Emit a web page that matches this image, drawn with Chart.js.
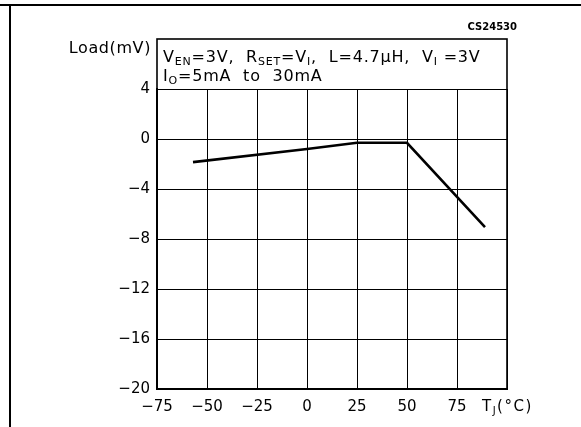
<!DOCTYPE html>
<html>
<head>
<meta charset="utf-8">
<script src="https://cdn.jsdelivr.net/npm/chart.js@4"></script>
<style>
  body { margin: 0; background: #fff; }
  canvas { display: block; }
</style>
</head>
<body>
<canvas id="loadChart" width="581" height="427"></canvas>
<script>
// data
const tempC = [-57, 0, 25, 50, 89];
const loadMv = [-1.85, -0.8, -0.3, -0.3, -7.05];
const xTicks = [-75, -50, -25, 0, 25, 50, 75, 100];
const yTicks = [-20, -16, -12, -8, -4, 0, 4];

const FONT = "DejaVu Sans";
const minus = (v) => String(v).replace("-", "\u2212");

// draw text made of runs, some of them subscripts
function drawRuns(ctx, x, y, runs, size = 16) {
  runs.forEach((r) => {
    ctx.font = r.sub ? `${size - 5}px ${FONT}` : `${size}px ${FONT}`;
    ctx.fillText(r.t, x, y + (r.sub ? 3 : 0));
    x += ctx.measureText(r.t).width;
  });
  return x;
}

const decorations = {
  id: "decorations",
  afterDraw(chart) {
    const ctx = chart.ctx;
    const { left, right, top, bottom } = chart.chartArea;
    ctx.save();
    ctx.fillStyle = "#000";
    ctx.strokeStyle = "#000";

    // page frame
    ctx.fillRect(0, 4, 581, 2);
    ctx.fillRect(9, 4, 2, 423);

    // plot outline and header box above the grid
    ctx.lineWidth = 1.6;
    ctx.strokeRect(left, 39, right - left, bottom - 39);

    ctx.textBaseline = "alphabetic";
    ctx.textAlign = "left";
    ctx.letterSpacing = "0.8px";
    drawRuns(ctx, 163, 62, [
      { t: "V" }, { t: "EN", sub: true }, { t: "=3V,  R" }, { t: "SET", sub: true },
      { t: "=V" }, { t: "I", sub: true }, { t: ",  L=4.7\u00b5H,  V" }, { t: "I", sub: true },
      { t: " =3V" },
    ]);
    drawRuns(ctx, 163, 81, [
      { t: "I" }, { t: "O", sub: true }, { t: "=5mA  to  30mA" },
    ]);

    // y title
    ctx.font = `16px ${FONT}`;
    ctx.letterSpacing = "0.6px";
    ctx.textAlign = "right";
    ctx.fillText("Load(mV)", 151, 53);

    // x title
    ctx.textAlign = "left";
    ctx.letterSpacing = "1.5px";
    drawRuns(ctx, 482, 411, [{ t: "T" }, { t: "J", sub: true }, { t: "(\u00b0C)" }], 15);
    ctx.letterSpacing = "0px";

    // figure code
    ctx.font = `bold 10px ${FONT}`;
    ctx.textAlign = "right";
    ctx.fillText("CS24530", 517, 30);
    ctx.restore();
  },
};

new Chart(document.getElementById("loadChart"), {
  type: "scatter",
  data: {
    datasets: [
      {
        data: tempC.map((t, i) => ({ x: t, y: loadMv[i] })),
        showLine: true,
        borderColor: "#000",
        borderWidth: 2.6,
        pointRadius: 0,
        tension: 0,
      },
    ],
  },
  options: {
    responsive: false,
    animation: false,
    layout: { padding: { top: 89, right: 74, left: 0, bottom: 0 } },
    plugins: { legend: { display: false }, tooltip: { enabled: false } },
    scales: {
      x: {
        type: "linear",
        min: -75,
        max: 100,
        afterBuildTicks: (s) => (s.ticks = xTicks.map((v) => ({ value: v }))),
        afterFit: (s) => (s.height = 38),
        grid: { color: "#000", lineWidth: 1, drawTicks: false },
        border: { color: "#000", width: 2 },
        ticks: {
          color: "#000",
          padding: 9,
          font: { family: FONT, size: 15 },
          callback: (v) => (v === 100 ? "" : minus(v)),
        },
      },
      y: {
        min: -20,
        max: 4,
        afterBuildTicks: (s) => (s.ticks = yTicks.map((v) => ({ value: v }))),
        afterFit: (s) => (s.width = 157),
        grid: { color: "#000", lineWidth: 1, drawTicks: false },
        border: { color: "#000", width: 2 },
        ticks: {
          color: "#000",
          padding: 7,
          font: { family: FONT, size: 15 },
          callback: (v) => minus(v),
        },
      },
    },
  },
  plugins: [decorations],
});
</script>
</body>
</html>
